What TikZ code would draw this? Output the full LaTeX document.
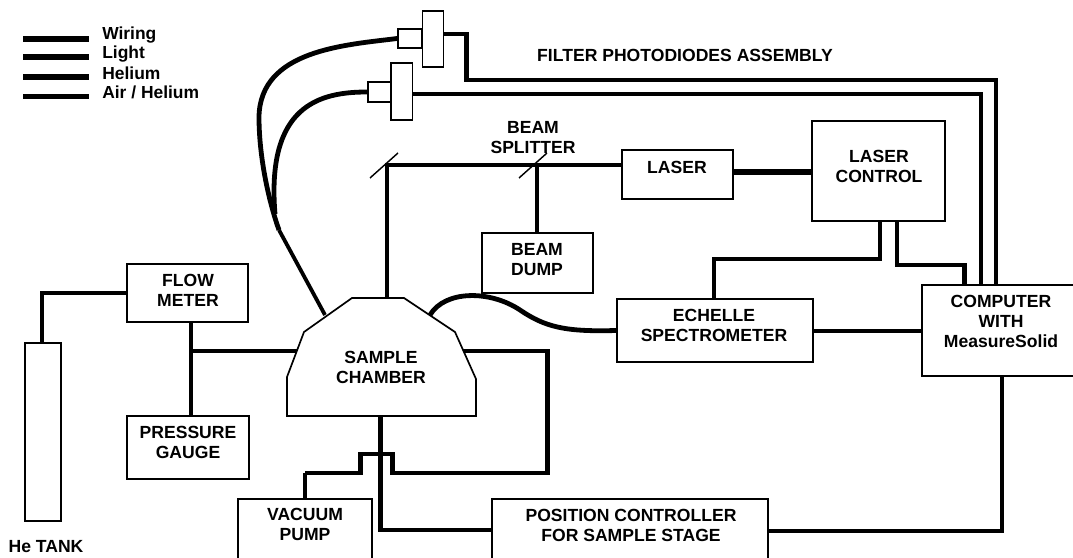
\documentclass[tikz,border=0pt]{standalone}
\usepackage{fontspec}
\setmainfont{Liberation Sans}
\usetikzlibrary{arrows.meta,positioning,calc}
\tikzset{
  blk/.style ={draw=black,fill=white,line width=.42mm,inner sep=0pt},
  lbl/.style ={font=\fontsize{12.5}{14.2}\selectfont\bfseries,align=center,inner sep=0pt},
  key/.style ={font=\fontsize{12.4}{13}\selectfont\bfseries,anchor=west,inner sep=0pt},
  wire/.style={draw=black,line width=1.2mm},
  hvy/.style ={wire,line width=1.5mm},
  lite/.style={wire,line width=.95mm},
  mir/.style ={draw=black,line width=.36mm},
}
\begin{document}
\begin{tikzpicture}[x=.25mm,y=-.25mm]
\clip (0,0) rectangle (1073,558);

% ===== legend ============================================================
\coordinate (kA) at (23,39);  \coordinate (kB) at (23,57);
\coordinate (kC) at (23,77);  \coordinate (kD) at (23,97);
\node[key] (kAt) at (102,35) {Wiring};
\node[key] (kBt) at (102,54) {Light};
\node[key] (kCt) at (102,73) {Helium};
\node[key] (kDt) at (102,92) {Air / Helium};
\draw[wire,line width=1.45mm] (kA) -- ++(66,0);
\draw[wire,line width=1.35mm] (kB) -- ++(66,0);
\draw[wire,line width=1.45mm] (kC) -- ++(66,0);
\draw[wire,line width=1.25mm] (kD) -- ++(66,0);

% ===== boxes =============================================================
\node[blk,minimum width=5.25mm,minimum height=14mm]    (pdA)  at (433,39)     {};
\node[blk,minimum width=6mm,minimum height=4.75mm]     (pdAs) at (410,38.5)   {};
\node[blk,minimum width=5.375mm,minimum height=14.25mm](pdB)  at (401.75,91.5){};
\node[blk,minimum width=5.75mm,minimum height=5mm]     (pdBs) at (379.5,92)   {};
\node[blk,minimum width=27.75mm,minimum height=12.25mm](lsr)  at (677.5,174.5){};
\node[blk,minimum width=33.25mm,minimum height=25mm]   (ctl)  at (878.5,171)  {};
\node[blk,minimum width=27.75mm,minimum height=15mm]   (dmp)  at (537.5,263)  {};
\node[blk,minimum width=49mm,minimum height=15.75mm]   (ech)  at (715,330.5)  {};
\node[blk,minimum width=39.5mm,minimum height=22.75mm] (cmp)  at (1001,330.5) {};
\node[blk,minimum width=30.25mm,minimum height=14.5mm] (flw)  at (187.5,293)  {};
\node[blk,minimum width=30.5mm,minimum height=15.75mm] (prs)  at (188,447.5)  {};
\node[blk,minimum width=9mm,minimum height=44.5mm]     (tnk)  at (43,432)     {};
\node[blk,minimum width=33.5mm,minimum height=25mm]    (vac)  at (305,549)    {};
\node[blk,minimum width=69mm,minimum height=25mm]      (pos)  at (630,549)    {};

% ===== sample chamber ====================================================
\coordinate (sA) at (287,416); \coordinate (sB) at (287,377);
\coordinate (sC) at (304,332); \coordinate (sD) at (352,298);
\coordinate (sE) at (404,298); \coordinate (sF) at (455,332);
\coordinate (sG) at (476,379); \coordinate (sH) at (476,416);

% ports on the chamber outline
\coordinate (pNW) at (325,315);  \coordinate (pN)  at (387,298);
\coordinate (pNE) at (430,315);  \coordinate (pW)  at (297,351);
\coordinate (pE)  at (463,351);  \coordinate (pS)  at (380.5,416);

% ===== gas lines =========================================================
\coordinate (t1) at (42,293);
\draw[wire] (flw.west|-t1) -- (t1) -- (t1|-tnk.north);
\coordinate (t2) at (191,351);
\draw[wire] (t2|-flw.south) -- (t2|-prs.north);
\draw[wire] (t2) -- (pW);
\coordinate (t3) at (547.5,473);
\draw[wire] (pE) -- (t3|-pE) -- (t3) -- (392.5,473) -- (392.5,454)
  -- (360.5,454) -- (360.5,473) -- (vac.north|-t3);
\draw[lite] (vac.north|-t3) -- (vac.north);

% ===== photodiode leads ==================================================
\coordinate (m1) at (275,214);
\coordinate (m2) at (279,230);
\draw[wire] (pdAs.west) .. controls (345,45) and (260,50) .. (259,117)
  .. controls (259,160) and (270,205) .. (m2);
\draw[lite] (m2) -- (pNW);
\draw[wire] (pdBs.west) .. controls (320,92) and (266,105) .. (m1);
\coordinate (q1) at (466.6,34);
\coordinate (q2) at (466.6,80);
\coordinate (q3) at (996,80);
\draw[wire] (pdA.east|-q1) -- (q1) -- (q2) -- (q3) -- (q3|-cmp.north);
\coordinate (q4) at (981,94);
\draw[wire] (pdB.east|-q4) -- (q4) -- (q4|-cmp.north);

% ===== beam path =========================================================
\coordinate (b1) at (387,165);
\coordinate (b2) at (537,165);
\draw[wire] (pN) -- (b1) -- (b1-|lsr.west);
\draw[wire] (b2) -- (b2|-dmp.north);
\draw[mir] (370,178) -- (398,153);
\draw[mir] (519,178) -- (547,153);
\coordinate (c1) at (0,172);
\draw[hvy] (lsr.east|-c1) -- (ctl.west|-c1);

% ===== controls and signal ===============================================
\coordinate (c2) at (880,259);
\coordinate (c3) at (714,259);
\draw[wire] (c2|-ctl.south) -- (c2) -- (c3) -- (c3|-ech.north);
\coordinate (c4) at (897,265);
\coordinate (c5) at (964.5,265);
\draw[wire] (c4|-ctl.south) -- (c4) -- (c5) -- (c5|-cmp.north);
\coordinate (c6) at (0,331);
\draw[wire] (ech.east|-c6) -- (cmp.west|-c6);
\draw[wire] (pNE) .. controls (445,290) and (490,290) .. (520,310)
  .. controls (545,327) and (565,332) .. (ech.west);
\coordinate (c7) at (380.5,530);
\draw[wire] (pS) -- (c7) -- (c7-|pos.west);
\coordinate (c8) at (1002,531);
\draw[wire] (c8|-cmp.south) -- (c8) -- (c8-|pos.east);

% chamber outline goes over the line ends
\draw[blk] (sA) -- (sB) -- (sC) -- (sD) -- (sE) -- (sF) -- (sG) -- (sH) -- cycle;

% ===== texts =============================================================
\node[lbl] (smpT) at (381,367.5)  {SAMPLE\\CHAMBER};
\node[lbl] (lsrT) at (677,167)    {LASER};
\node[lbl] (ctlT) at (879,166)    {LASER\\CONTROL};
\node[lbl] (dmpT) at (537,259.5)  {BEAM\\DUMP};
\node[lbl] (echT) at (714,325)    {ECHELLE\\SPECTROMETER};
\node[lbl] (cmpT) at (1001,321)   {COMPUTER\\WITH\\MeasureSolid};
\node[lbl] (flwT) at (188,290)    {FLOW\\METER};
\node[lbl] (prsT) at (188,442)    {PRESSURE\\GAUGE};
\node[lbl] (vacT) at (305,524)    {VACUUM\\PUMP};
\node[lbl] (posT) at (631,525)    {POSITION CONTROLLER\\FOR SAMPLE STAGE};
\node[lbl] (bsT)  at (533,137.5)  {BEAM\\SPLITTER};
\node[lbl] (heT)  at (46,547)     {He TANK};
\node[lbl] (filT) at (685,55)     {FILTER PHOTODIODES ASSEMBLY};
\end{tikzpicture}
\end{document}
